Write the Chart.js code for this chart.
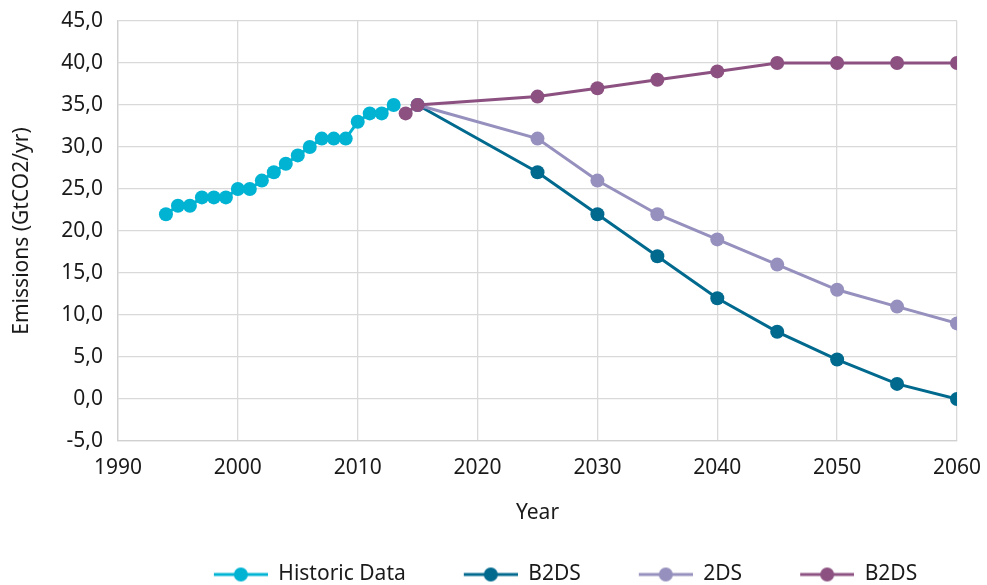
<!DOCTYPE html>
<html>
<head>
<meta charset="utf-8">
<script src="https://cdn.jsdelivr.net/npm/chart.js@4"></script>
<style>
  html, body { margin: 0; padding: 0; background: #fff; }
  #wrap { width: 987px; height: 585px; }
</style>
</head>
<body>
<div id="wrap"><canvas id="chart" width="987" height="585"></canvas></div>
<script>
// data
const histYears = [1994, 1995, 1996, 1997, 1998, 1999, 2000, 2001, 2002, 2003, 2004, 2005, 2006, 2007, 2008, 2009, 2010, 2011, 2012, 2013];
const histValues = [22, 23, 23, 24, 24, 24, 25, 25, 26, 27, 28, 29, 30, 31, 31, 31, 33, 34, 34, 35];

const scenarioYears = [2015, 2025, 2030, 2035, 2040, 2045, 2050, 2055, 2060];
const b2dsValues = [35, 27, 22, 17, 12, 8, 4.7, 1.8, 0];
const twoDsValues = [35, 31, 26, 22, 19, 16, 13, 11, 9];

const highYears = [2014, 2015, 2025, 2030, 2035, 2040, 2045, 2050, 2055, 2060];
const highValues = [34, 35, 36, 37, 38, 39, 40, 40, 40, 40];

const seriesLabels = ['Historic Data', 'B2DS', '2DS', 'B2DS'];
const seriesColors = ['#00b3d3', '#00698e', '#9590bd', '#8c5181'];

const xTicks = [1990, 2000, 2010, 2020, 2030, 2040, 2050, 2060];
const yTicks = [-5, 0, 5, 10, 15, 20, 25, 30, 35, 40, 45];

const FONT = "'Noto Sans', 'DejaVu Sans', sans-serif";
const LEAD = 56; // empty room left of each legend marker

function toPoints(xs, ys) {
    return xs.map((x, i) => ({ x: x, y: ys[i] }));
}

// legend marker: line with a dot
function legendMarker(color) {
    const c = document.createElement('canvas');
    c.width = LEAD + 54;
    c.height = 18;
    const g = c.getContext('2d');
    g.strokeStyle = color;
    g.lineWidth = 3;
    g.beginPath();
    g.moveTo(LEAD, 9);
    g.lineTo(LEAD + 54, 9);
    g.stroke();
    g.fillStyle = color;
    g.beginPath();
    g.arc(LEAD + 27, 9, 7, 0, Math.PI * 2);
    g.fill();
    return c;
}

const markers = seriesColors.map(c => legendMarker(c));

function makeSet(i, pts, order) {
    return {
        label: seriesLabels[i],
        data: pts,
        borderColor: seriesColors[i],
        backgroundColor: seriesColors[i],
        pointBackgroundColor: seriesColors[i],
        pointBorderColor: seriesColors[i],
        borderWidth: 3,
        pointRadius: 7,
        pointBorderWidth: 0,
        tension: 0,
        order: order
    };
}

const datasets = [
    makeSet(0, toPoints(histYears, histValues), 4),
    makeSet(1, toPoints(scenarioYears, b2dsValues), 3),
    makeSet(2, toPoints(scenarioYears, twoDsValues), 2),
    makeSet(3, toPoints(highYears, highValues), 1)
];

const fmt = v => v.toFixed(1).replace('.', ',');

new Chart(document.getElementById('chart'), {
    type: 'line',
    data: { datasets: datasets },
    options: {
        responsive: false,
        animation: false,
        layout: { padding: { left: 0, right: 30, top: 21, bottom: -10 } },
        plugins: {
            tooltip: { enabled: false },
            legend: {
                position: 'bottom',
                fullSize: false,
                labels: {
                    usePointStyle: true,
                    pointStyleWidth: LEAD + 54,
                    padding: 2,
                    color: '#1a1a1a',
                    font: { family: FONT, size: 21 },
                    generateLabels: chart => chart.data.datasets.map((ds, i) => ({
                        text: ds.label,
                        datasetIndex: i,
                        pointStyle: markers[i],
                        fillStyle: ds.borderColor,
                        strokeStyle: ds.borderColor,
                        lineWidth: 0,
                        hidden: false,
                        fontColor: '#1a1a1a'
                    }))
                }
            }
        },
        scales: {
            x: {
                type: 'linear',
                min: 1990,
                max: 2060,
                afterBuildTicks: s => { s.ticks = xTicks.map(v => ({ value: v })); },
                afterFit: s => {
                    s.height = 121;
                    s.paddingLeft = 10;
                    s.paddingRight = 10;
                },
                ticks: {
                    padding: 14,
                    color: '#1a1a1a',
                    font: { family: FONT, size: 21 },
                    maxRotation: 0,
                    callback: v => String(v)
                },
                grid: { color: '#d9d9d9', lineWidth: 1.3, drawTicks: false },
                border: { color: '#d0d0d0', width: 1.3 },
                title: {
                    display: true,
                    text: 'Year',
                    color: '#1a1a1a',
                    font: { family: FONT, size: 21 },
                    padding: { top: 0, bottom: 36 }
                }
            },
            y: {
                type: 'linear',
                min: -5,
                max: 45,
                afterBuildTicks: s => { s.ticks = yTicks.map(v => ({ value: v })); },
                afterFit: s => {
                    s.width = 118;
                    s.paddingTop = 10;
                    s.paddingBottom = 10;
                },
                ticks: {
                    padding: 15,
                    color: '#1a1a1a',
                    font: { family: FONT, size: 21 },
                    callback: v => fmt(v)
                },
                grid: { color: '#d9d9d9', lineWidth: 1.3, drawTicks: false },
                border: { color: '#d0d0d0', width: 1.3 },
                title: {
                    display: true,
                    text: 'Emissions (GtCO2/yr)',
                    color: '#1a1a1a',
                    font: { family: FONT, size: 21 },
                    padding: { top: 9, bottom: 0 }
                }
            }
        }
    }
});
</script>
</body>
</html>
